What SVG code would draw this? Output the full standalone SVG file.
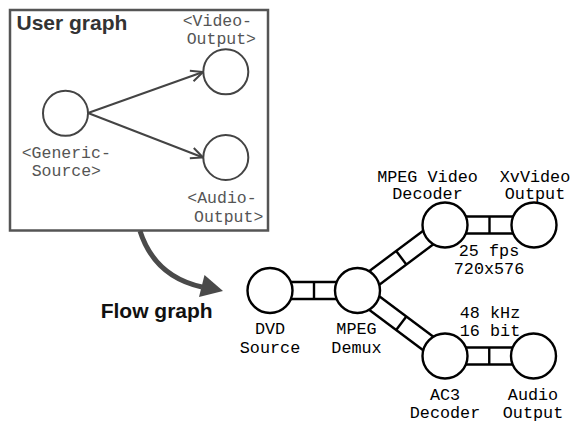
<svg xmlns="http://www.w3.org/2000/svg" width="572" height="422" viewBox="0 0 572 422">
<style>
.ubox{fill:none;stroke:#555;stroke-width:2.5}
.ucirc{fill:#fff;stroke:#444;stroke-width:2}
.ulbl{font-family:"Liberation Mono","DejaVu Sans Mono",monospace;font-size:16.5px;fill:#555}
.title{font-family:"Liberation Sans",Arial,sans-serif;font-size:21px;font-weight:bold}
.uarr{fill:none;stroke:#444;stroke-width:2}
.fcirc{fill:#fff;stroke:#000;stroke-width:2.4}
.pipe{fill:none;stroke:#000;stroke-width:2.4}
.flbl{font-family:"Liberation Mono","DejaVu Sans Mono",monospace;font-size:16.8px;fill:#000;text-anchor:middle}
</style>
<defs>
<marker id="open" markerUnits="userSpaceOnUse" viewBox="0 0 14 14" markerWidth="14" markerHeight="14" refX="13" refY="7" orient="auto">
<path d="M1,1.5 L13,7 L1,12.5" fill="none" stroke="#444" stroke-width="2"/>
</marker>
</defs>
<rect width="572" height="422" fill="#fff"/>

<g id="user-graph">
<rect class="ubox" x="10" y="10" width="258" height="220.5"/>
<text class="title" x="16.5" y="29.5" fill="#333">User graph</text>
</g>

<g id="user-connectors">
<line class="uarr" x1="88" y1="113" x2="203" y2="72" marker-end="url(#open)"/>
<line class="uarr" x1="88" y1="113" x2="203" y2="157.5" marker-end="url(#open)"/>
</g>

<g id="generic-source">
<circle class="ucirc" cx="65.5" cy="113.3" r="22.5"/>
<text class="ulbl" x="21.7" y="158.3">&lt;Generic-</text>
<text class="ulbl" x="31.7" y="175.8">Source&gt;</text>
</g>
<g id="video-output">
<circle class="ucirc" cx="225.8" cy="71.8" r="22.5"/>
<text class="ulbl" x="182.7" y="26.2">&lt;Video-</text>
<text class="ulbl" x="186.7" y="43.5">Output&gt;</text>
</g>
<g id="audio-output">
<circle class="ucirc" cx="225.8" cy="157.5" r="22.5"/>
<text class="ulbl" x="187.3" y="203">&lt;Audio-</text>
<text class="ulbl" x="194" y="221.9">Output&gt;</text>
</g>

<g id="transform-arrow">
<path d="M140,231 C150,262 170,280 202,287" fill="none" stroke="#4a4a4a" stroke-width="5"/>
<polygon points="223,291 199,297 204.5,275" fill="#4a4a4a"/>
<text class="title" x="100.7" y="318.3" fill="#111">Flow graph</text>
</g>

<g id="flow-connectors">
<line class="pipe" x1="270" y1="282" x2="357.5" y2="282"/>
<line class="pipe" x1="270" y1="299" x2="357.5" y2="299"/>
<line class="pipe" x1="314" y1="282" x2="314" y2="299"/>

<line class="pipe" x1="362.59" y1="297.3" x2="450.09" y2="231.8"/>
<line class="pipe" x1="352.41" y1="283.7" x2="439.91" y2="218.2"/>
<line class="pipe" x1="396.16" y1="250.95" x2="406.34" y2="264.55"/>

<line class="pipe" x1="352.41" y1="297.3" x2="439.91" y2="362.8"/>
<line class="pipe" x1="362.59" y1="283.7" x2="450.09" y2="349.2"/>
<line class="pipe" x1="406.34" y1="316.45" x2="396.16" y2="330.05"/>

<line class="pipe" x1="445" y1="216.5" x2="534" y2="216.5"/>
<line class="pipe" x1="445" y1="233.5" x2="534" y2="233.5"/>
<line class="pipe" x1="489.5" y1="216.5" x2="489.5" y2="233.5"/>

<line class="pipe" x1="445" y1="347.5" x2="533.5" y2="347.5"/>
<line class="pipe" x1="445" y1="364.5" x2="533.5" y2="364.5"/>
<line class="pipe" x1="489.25" y1="347.5" x2="489.25" y2="364.5"/>
</g>

<g id="dvd-source">
<circle class="fcirc" cx="270" cy="290.5" r="22.5"/>
<text class="flbl" x="270" y="334.3">DVD</text>
<text class="flbl" x="270" y="352.7">Source</text>
</g>
<g id="mpeg-demux">
<circle class="fcirc" cx="357.5" cy="290.5" r="22.5"/>
<text class="flbl" x="356.5" y="334.3">MPEG</text>
<text class="flbl" x="356.5" y="352.7">Demux</text>
</g>
<g id="mpeg-video-decoder">
<circle class="fcirc" cx="445" cy="225" r="22.5"/>
<text class="flbl" x="427.5" y="181.5">MPEG Video</text>
<text class="flbl" x="427.5" y="199.2">Decoder</text>
<text class="flbl" x="489" y="256">25 fps</text>
<text class="flbl" x="489" y="273.8">720x576</text>
</g>
<g id="xvvideo-output">
<circle class="fcirc" cx="534" cy="225" r="22.5"/>
<text class="flbl" x="535" y="181.5">XvVideo</text>
<text class="flbl" x="535" y="199.2">Output</text>
</g>
<g id="ac3-decoder">
<circle class="fcirc" cx="445" cy="356" r="22.5"/>
<text class="flbl" x="490" y="318">48 kHz</text>
<text class="flbl" x="490" y="336">16 bit</text>
<text class="flbl" x="445" y="400">AC3</text>
<text class="flbl" x="445" y="418">Decoder</text>
</g>
<g id="audio-output-node">
<circle class="fcirc" cx="533.5" cy="356" r="22.5"/>
<text class="flbl" x="533" y="400">Audio</text>
<text class="flbl" x="533" y="418">Output</text>
</g>
</svg>
